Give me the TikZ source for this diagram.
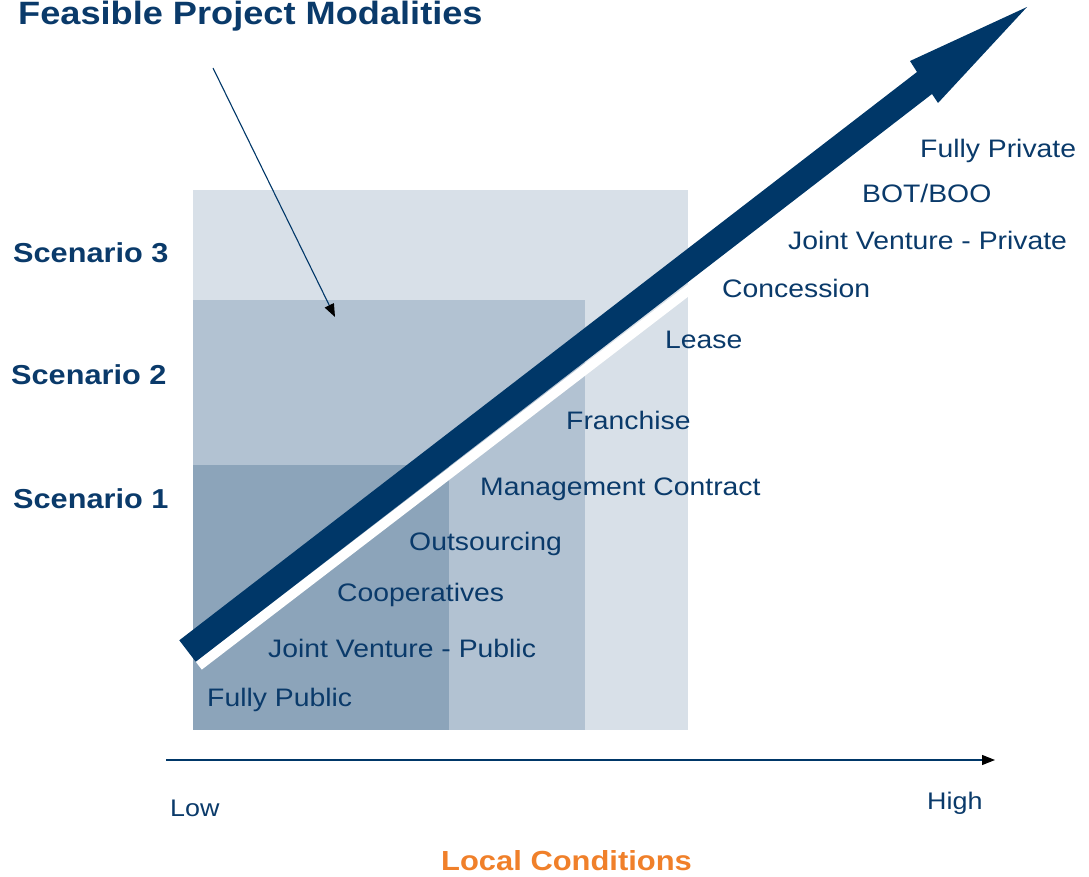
\documentclass[tikz,border=0pt]{standalone}
\usepackage{fontspec}
\newfontfamily\rf[FakeStretch=1.12]{Liberation Sans}
\usetikzlibrary{arrows.meta}
\definecolor{navy}{HTML}{003768}
\definecolor{txt}{HTML}{0A3A6A}
\definecolor{lt}{HTML}{D8E0E8}
\definecolor{md}{HTML}{B2C2D2}
\definecolor{dk}{HTML}{8CA4BA}
\definecolor{org}{HTML}{F0802A}
\tikzset{
  lbl/.style={anchor=base west,inner sep=0pt,text=txt,font=\rf\fontsize{25.3}{28}\selectfont},
  scen/.style={anchor=base west,inner sep=0pt,text=txt,font=\rf\bfseries\fontsize{27.4}{30}\selectfont},
  ax/.style={anchor=base west,inner sep=0pt,text=txt,font=\rf\fontsize{24}{27}\selectfont},
  thin/.style={draw=navy,line width=1.1pt}
}
\begin{document}
\begin{tikzpicture}[x=1pt,y=-1pt]
\useasboundingbox (0,0) rectangle (1089,877);
% scenario boxes
\fill[lt] (193,190) rectangle (688,730);
\fill[md] (193,300) rectangle (585,730);
\fill[dk] (193,465) rectangle (449,730);
% white stripe
\fill[white] (195.7,661.7) -- (201.8,669.6) -- (688,296.8) -- (688,284.3) -- cycle;
% big arrow
\coordinate (s1) at (179.3,640.3);
\coordinate (s2) at (195.7,661.7);
\coordinate (j1) at (917,72);
\coordinate (j2) at (932,94);
\coordinate (b1) at (910,61);
\coordinate (b2) at (938,103);
\coordinate (tip) at (1027,7);
\fill[navy] (s1) -- (j1) -- (b1) -- (tip) -- (b2) -- (j2) -- (s2) -- cycle;
% title and pointer
\node[anchor=base west,inner sep=0pt,text=txt,font=\rf\bfseries\fontsize{32.3}{34}\selectfont] (title) at (18,25) {Feasible Project Modalities};
\coordinate (p0) at (213,68);
\coordinate (p1) at (335,317);
\draw[thin,-{Triangle[color=black,length=13pt,width=10pt]}] (p0) -- (p1);
% scenario labels
\node[scen] (sc3) at (13,263) {Scenario 3};
\node[scen] (sc2) at (11,384) {Scenario 2};
\node[scen] (sc1) at (13,508) {Scenario 1};
% modality labels
\node[lbl] (m1) at (920,158) {Fully Private};
\node[lbl] (m2) at (862,203) {BOT/BOO};
\node[lbl] (m3) at (788,250) {Joint Venture - Private};
\node[lbl] (m4) at (722,298) {Concession};
\node[lbl] (m5) at (665,348) {Lease};
\node[lbl] (m6) at (566,429) {Franchise};
\node[lbl] (m7) at (480,495) {Management Contract};
\node[lbl] (m8) at (409,550) {Outsourcing};
\node[lbl] (m9) at (337,601) {Cooperatives};
\node[lbl] (m10) at (268,657) {Joint Venture - Public};
\node[lbl] (m11) at (207,706) {Fully Public};
% axis
\coordinate (a0) at (166,760);
\coordinate (a1) at (995,760);
\draw[thin,-{Triangle[color=black,length=13pt,width=10pt]}] (a0) -- (a1);
\node[ax] (low) at (170,816) {Low};
\node[ax] (high) at (927,809) {High};
\node[anchor=base west,inner sep=0pt,text=org,font=\rf\bfseries\fontsize{27.6}{30}\selectfont] (lc) at (441,870) {Local Conditions};
\end{tikzpicture}
\end{document}
